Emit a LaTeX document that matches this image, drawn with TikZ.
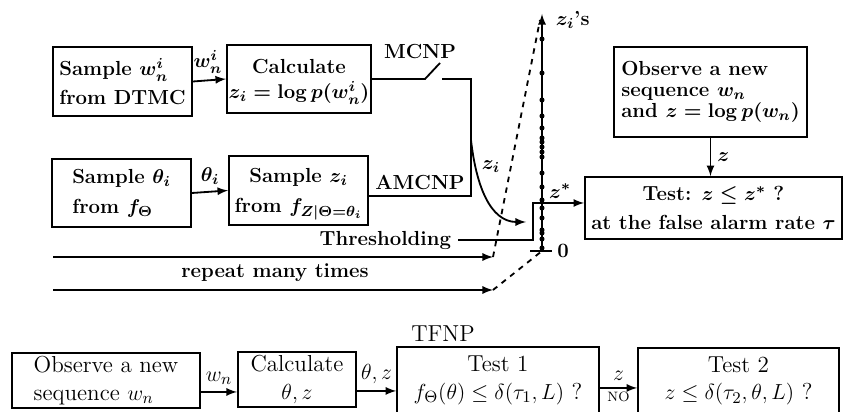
\documentclass[tikz,border=0pt]{standalone}
\usepackage{amsmath,amssymb}

\begin{document}
\begin{tikzpicture}[x=0.55pt,y=-0.55pt,>=latex,line width=1pt,
  box/.style={draw,inner sep=1pt},
  bft/.style={font=\fontsize{11.2}{13.5}\selectfont\bfseries\boldmath},
  rmt/.style={font=\fontsize{12.7}{15}\selectfont}]
\useasboundingbox (0,0) rectangle (843,412);
\node[box,bft,align=left,minimum width=76.5pt,minimum height=38pt] (smpw) at (122.5,81.5) {Sample $w_n^i$\\[2.5pt]from DTMC};
\node[box,bft,align=center,minimum width=77pt,minimum height=37.4pt] (calc) at (299,79) {Calculate\\\smash{$z_i=\log p(w_n^i)$}};
\node[box,bft,align=left,minimum width=76.5pt,minimum height=37.4pt] (smpt) at (121.5,193) {Sample $\theta_i$\\[3pt]from $f_\Theta$};
\node[box,bft,align=center,minimum width=76.5pt,minimum height=38pt] (smpz) at (298.5,190.5) {Sample $z_i$\\[3pt]from \smash{$f_{Z|\Theta=\theta_i}$}};
\node[box,align=left,minimum width=106pt,minimum height=49.5pt,font=\fontsize{11.2}{11.5}\selectfont\bfseries\boldmath] (obs) at (710.5,92) {Observe a new\\sequence $w_n$\\and $z=\log p(w_n)$};
\node[box,bft,align=center,minimum width=141.4pt,minimum height=34.1pt] (test) at (713.5,208) {Test: $z\leq z^*$ ?\\[2.5pt]at the false alarm rate $\tau$};
\draw[->] (smpw.east) -- (calc.west) node[pos=0.45,above,bft] {$w_n^i$};
\draw[->] (smpt.east) -- (smpz.west) node[pos=0.5,above,bft] {$\theta_i$};
% switch and junction
\coordinate (swa) at (425,79);
\coordinate (swb) at (440,63);
\coordinate (swc) at (442,79);
\coordinate (jt) at (471,79);
\coordinate (jb) at (471,196);
\draw (calc.east) -- (swa) -- (swb);
\draw (swc) -- (jt) -- (jb) -- (smpz.east |- jb);
\node[bft] (mcnp) at (420,52) {MCNP};
\node[bft] (amcnp) at (420,183) {AMCNP};
\coordinate (cv) at (471,140);
\coordinate (cve) at (526,222);
\draw[->] (cv) .. controls (476,185) and (490,222) .. (cve);
\node[bft] (zi) at (491,167) {$z_i$};
% axis with the sampled values
\coordinate (ax0) at (542,251);
\coordinate (axt) at (542,14);
\draw[->] (ax0) -- (axt);
\foreach \y in {39,73,100,116,128,138,142,147,152,157,173,187,200,208,218,230,233,239,248}
  \fill (542,\y) circle (1.4pt);
\node[bft,anchor=west] (zis) at (549,20) {$z_i$'s};
\draw (530,251) -- (552,251);
\node[bft] (zero) at (563,251) {0};
\node[bft,anchor=east] (thr) at (458,240) {Thresholding};
\coordinate (zk) at (533,203);
\draw[->] (thr.east) -- (thr.east -| zk) -- (zk) -- (test.west |- zk);
\node[bft] (zst) at (560,191) {$z^*$};
\draw[->] (obs.south) -- (obs.south |- test.north) node[midway,right,bft] {$z$};
\coordinate (ra) at (53,257);
\coordinate (rb) at (493,257);
\coordinate (rc) at (53,290);
\coordinate (rd) at (493,290);
\draw[->] (ra) -- (rb);
\draw[->] (rc) -- (rd);
\draw[dashed] (rb) -- (540,20);
\draw[dashed] (rd) -- (ax0);
\node[bft] (rpt) at (275,273) {repeat many times};
% TFNP
\node[rmt] (tfnp) at (443,334) {TFNP};
\node[box,rmt,align=left,minimum width=103.4pt,minimum height=30.3pt] (obsn) at (106,380.5) {Observe a new\\sequence $w_n$};
\node[box,rmt,align=center,minimum width=65pt,minimum height=30.3pt] (calcn) at (297,379.5) {Calculate\\$\theta,z$};
\node[box,rmt,align=center,minimum width=111pt,minimum height=36.9pt] (tst1) at (498,380.5) {Test 1\\$f_\Theta(\theta)\leq\delta(\tau_1,L)$ ?};
\node[box,rmt,align=center,minimum width=110.5pt,minimum height=36.3pt] (tst2) at (738.5,381) {Test 2\\$z\leq\delta(\tau_2,\theta,L)$ ?};
\draw[->] ([yshift=-6.3pt]obsn.east) -- ([yshift=-6.3pt]obsn.east -| calcn.west) node[midway,above,rmt] {$w_n$};
\draw[->] ([yshift=-6.3pt]calcn.east) -- ([yshift=-6.3pt]calcn.east -| tst1.west) node[midway,above,rmt] {$\theta,z$};
\draw[->] ([yshift=-4.1pt]tst1.east) -- ([yshift=-4.1pt]tst1.east -| tst2.west) node[midway,above,rmt] {$z$} node[midway,below,inner sep=1.5pt,font=\fontsize{7.5}{8}\selectfont] {NO};
\end{tikzpicture}
\end{document}
